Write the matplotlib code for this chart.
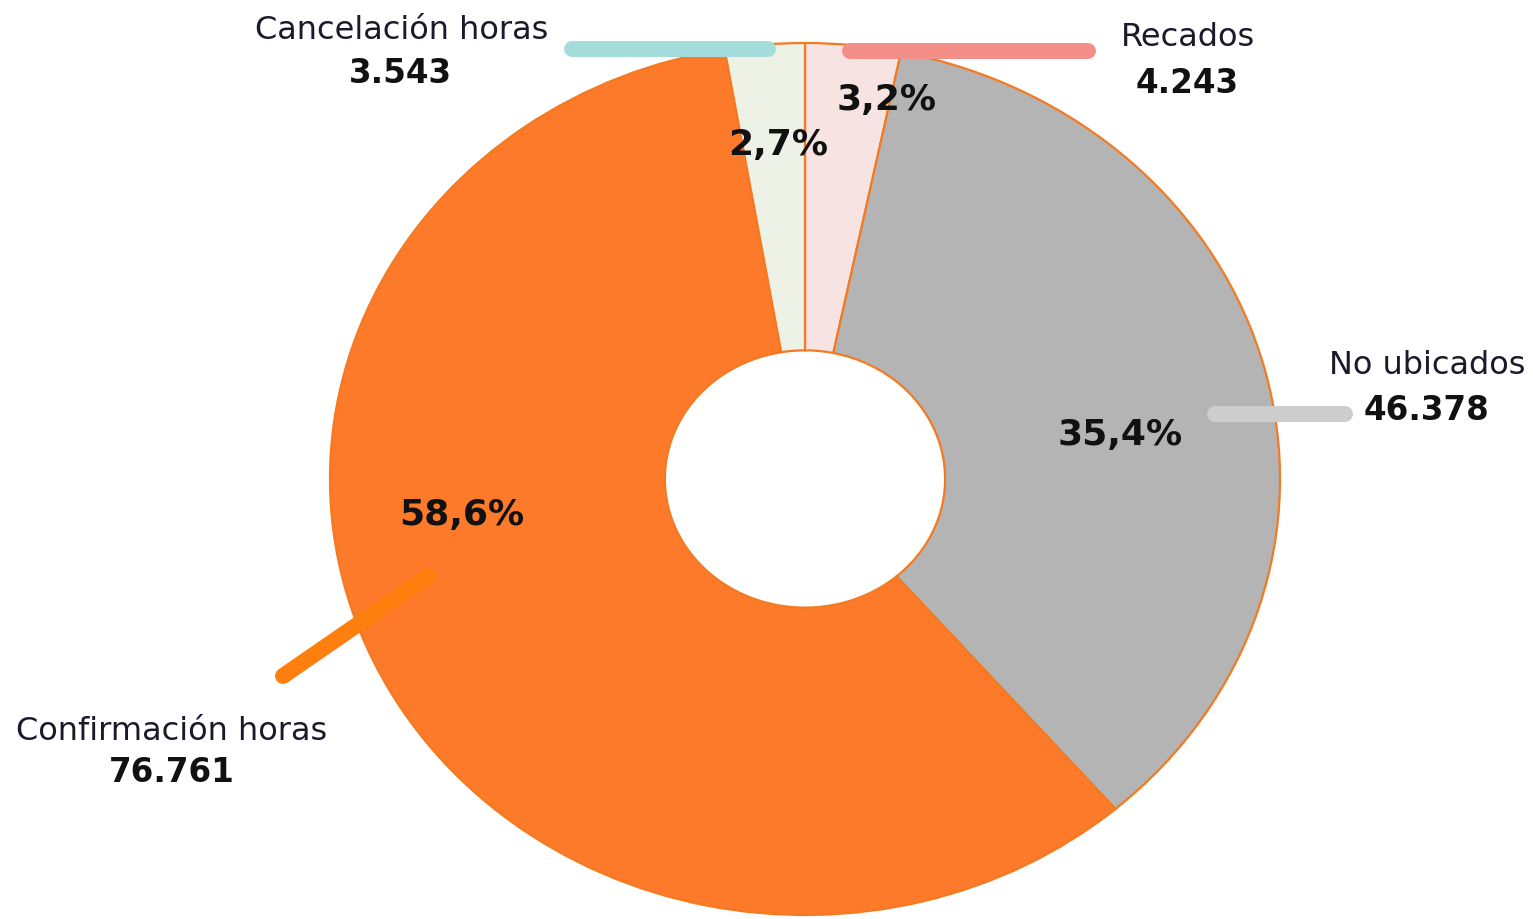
import matplotlib
matplotlib.use('Agg')
import matplotlib.pyplot as plt

# Data (clockwise from the top)
categories = ['Recados', 'No ubicados', 'Confirmación horas', 'Cancelación horas']
counts = [4243, 46378, 76761, 3543]
count_labels = ['4.243', '46.378', '76.761', '3.543']
wedge_colors = ['#F8E3E3', '#B4B4B4', '#FC7A2A', '#EEF1E5']
leader_colors = ['#F48E88', '#CDCDCD', '#FF7F0E', '#A4DCDB']

W, H = 1533, 920
CX, CY, RX, RY = 805, 480, 475, 436


def px(x, y):
    # picture pixels -> data coords of the pie axes
    return (x - CX) / RX, (CY - y) / RY


fig = plt.figure(figsize=(W / 100, H / 100), dpi=100)
ax = fig.add_axes([0, 0, 1, 1])

wedges, _ = ax.pie(counts, colors=wedge_colors, startangle=90, counterclock=False,
                   wedgeprops=dict(width=0.705, edgecolor='#F47A22', linewidth=1.6))
ax.set_aspect('auto')
ax.set_xlim(-CX / RX, (W - CX) / RX)
ax.set_ylim((CY - H) / RY, CY / RY)
ax.axis('off')

# percentages
total = sum(counts)
pct_pos = [(887, 100), (1120, 435), (462, 515), (778, 145)]
for c, (x, y) in zip(counts, pct_pos):
    txt = f'{100 * c / total:.1f}%'.replace('.', ',')
    ax.text(*px(x, y), txt, ha='center', va='center', fontsize=26,
            fontweight='bold', color='#111111')

# leader lines
leaders = [((850, 52), (1088, 52)),
           ((1215, 415), (1345, 415)),
           ((428, 577), (283, 677)),
           ((572, 50), (768, 50))]
for (p0, p1), col in zip(leaders, leader_colors):
    x0, y0 = px(*p0)
    x1, y1 = px(*p1)
    ax.plot([x0, x1], [y0, y1], color=col, linewidth=11.5, solid_capstyle='round')

# category names and counts
name_pos = [(1188, 37), (1427, 365), (172, 731), (402, 30)]
num_pos = [(1187, 83), (1426, 410), (172, 773), (400, 73)]
for name, num, (nx, ny), (vx, vy) in zip(categories, count_labels, name_pos, num_pos):
    ax.text(*px(nx, ny), name, ha='center', va='center', fontsize=23, color='#1a1a2a')
    ax.text(*px(vx, vy), num, ha='center', va='center', fontsize=23.5,
            fontweight='bold', color='#111111')

fig.savefig('out.png', dpi=100, facecolor='white')
